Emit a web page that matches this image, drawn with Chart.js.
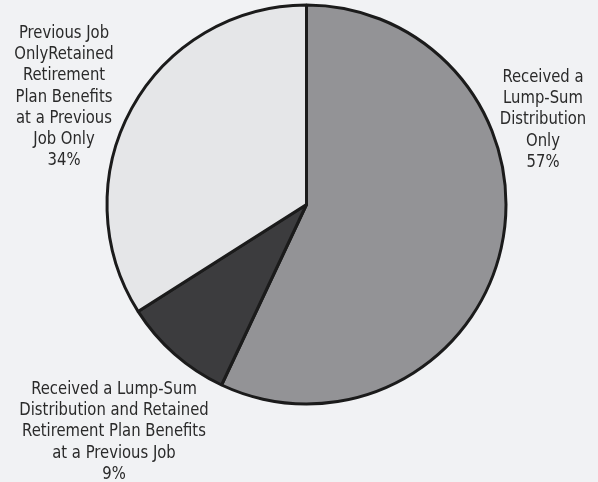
<!DOCTYPE html>
<html>
<head>
<meta charset="utf-8">
<script src="https://cdn.jsdelivr.net/npm/chart.js@4/dist/chart.umd.min.js"></script>
<style>
  html, body { margin: 0; padding: 0; background: #f1f2f4; }
  #wrap { width: 598px; height: 482px; position: relative; }
</style>
</head>
<body>
<div id="wrap"><canvas id="pie" width="598" height="482"></canvas></div>
<script>
// Category names, split into the lines they are set on
const categories = [
  ['Received a', 'Lump-Sum', 'Distribution', 'Only'],
  ['Received a Lump-Sum', 'Distribution and Retained', 'Retirement Plan Benefits', 'at a Previous Job'],
  ['Previous Job', 'OnlyRetained', 'Retirement', 'Plan Benefits', 'at a Previous', 'Job Only']
];
// Share of respondents, percent
const shares = [57, 9, 34];
const sliceColors = ['#939396', '#3c3c3e', '#e5e6e8'];

// Where each multi-line label block sits (centre x, first line y)
const labelAnchors = [
  { x: 543, y: 77 },
  { x: 114, y: 389 },
  { x: 64, y: 33 }
];

const blockLabels = {
  id: 'blockLabels',
  afterDraw(chart, args, opts) {
    const ctx = chart.ctx;
    const data = chart.data.datasets[0].data;
    ctx.save();
    ctx.fillStyle = opts.color;
    ctx.font = opts.font;
    ctx.textAlign = 'center';
    ctx.textBaseline = 'middle';
    chart.data.labels.forEach((lines, i) => {
      const a = opts.anchors[i];
      const all = lines.concat([data[i] + '%']);
      all.forEach((t, j) => {
        ctx.save();
        ctx.translate(a.x, a.y + j * opts.lineHeight);
        ctx.scale(opts.condense, 1);   // narrow the face to a condensed width
        ctx.fillText(t, 0, 0);
        ctx.restore();
      });
    });
    ctx.restore();
  }
};

new Chart(document.getElementById('pie'), {
  type: 'pie',
  data: {
    labels: categories,
    datasets: [{
      data: shares,
      backgroundColor: sliceColors,
      borderColor: '#1b1b1b',
      borderWidth: 3,
      borderAlign: 'center'
    }]
  },
  options: {
    responsive: false,
    animation: false,
    layout: { padding: { left: 105.5, right: 90.5, top: 3.5, bottom: 76.5 } },
    plugins: {
      legend: { display: false },
      tooltip: { enabled: false },
      blockLabels: {
        anchors: labelAnchors,
        lineHeight: 21.3,
        condense: 0.915,
        color: '#2a2a2a',
        font: '18px "DejaVu Sans Condensed", "DejaVu Sans", sans-serif'
      }
    }
  },
  plugins: [blockLabels]
});
</script>
</body>
</html>
